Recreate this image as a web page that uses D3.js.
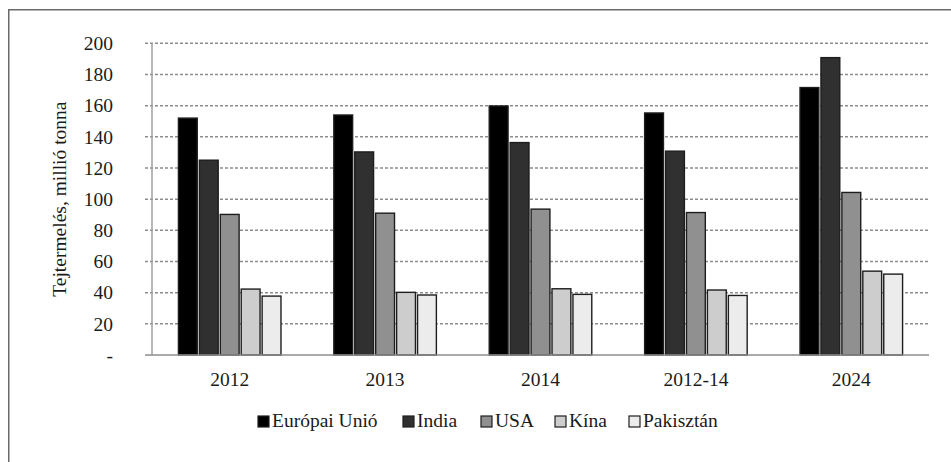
<!DOCTYPE html>
<html>
<head>
<meta charset="utf-8">
<script src="https://cdn.jsdelivr.net/npm/d3@7"></script>
<style>
  html, body { margin: 0; padding: 0; background: #fff; }
  svg { display: block; }
  text { font-family: "Liberation Serif", "Times New Roman", serif; fill: #1a1a1a; }
</style>
</head>
<body>
<svg id="chart" width="951" height="462"></svg>
<script>
// Milk production by country, million tonnes
const categories = ["2012", "2013", "2014", "2012-14", "2024"];
const seriesNames = ["Európai Unió", "India", "USA", "Kína", "Pakisztán"];
const euValues   = [152, 154, 159.8, 155.3, 171.6];
const indiaValues = [125, 130.3, 136.3, 130.8, 190.8];
const usaValues  = [90.2, 91, 93.6, 91.4, 104.3];
const chinaValues = [42.3, 40.2, 42.5, 41.7, 53.8];
const pakValues  = [37.8, 38.5, 38.9, 38.2, 51.9];
const yTicks = [0, 20, 40, 60, 80, 100, 120, 140, 160, 180, 200];
const yTitle = "Tejtermelés, millió tonna";

const seriesValues = [euValues, indiaValues, usaValues, chinaValues, pakValues];
const fills = ["#000000", "#303030", "#909090", "#cdcdcd", "#ececec"];

const svg = d3.select("#chart");

// Frame (left and top edges)
svg.append("path")
  .attr("d", "M8.75,462 V9.75 H951")
  .attr("fill", "none")
  .attr("stroke", "#6a6a6a")
  .attr("stroke-width", 1.5);

const plot = { left: 152, right: 929, top: 43.3, bottom: 355 };

const y = d3.scaleLinear().domain([0, 200]).range([plot.bottom, plot.top]);
const x0 = d3.scaleBand().domain(categories)
  .range([plot.left, plot.right]).paddingInner(0.34).paddingOuter(0.17);
const x1 = d3.scaleBand().domain(seriesNames)
  .range([0, x0.bandwidth()]).paddingInner(0.1).paddingOuter(0);

// Dashed gridlines
svg.append("g").selectAll("line")
  .data(yTicks.filter(d => d > 0))
  .join("line")
  .attr("x1", plot.left - 7).attr("x2", plot.right)
  .attr("y1", d => y(d)).attr("y2", d => y(d))
  .attr("stroke", "#8c8c8c")
  .attr("stroke-width", 1.5)
  .attr("stroke-dasharray", "3,2");

// Y axis
const yAxis = d3.axisLeft(y).tickValues(yTicks)
  .tickFormat(d => d === 0 ? "-" : d)
  .tickSize(0).tickPadding(39);
const gy = svg.append("g").attr("transform", `translate(${plot.left},0)`).call(yAxis);
gy.select(".domain").remove();
gy.selectAll("text")
  .style("font-family", '"Liberation Serif", "Times New Roman", serif')
  .style("font-size", "19.5px")
  .attr("fill", "#1a1a1a");

svg.append("line")
  .attr("x1", plot.left).attr("x2", plot.left)
  .attr("y1", plot.top).attr("y2", plot.bottom)
  .attr("stroke", "#a0a0a0").attr("stroke-width", 1.5);

// Bars
const groups = svg.append("g").selectAll("g")
  .data(categories)
  .join("g")
  .attr("transform", d => `translate(${x0(d)},0)`);

groups.selectAll("rect")
  .data((c, ci) => seriesNames.map((s, si) => ({ s, si, v: seriesValues[si][ci] })))
  .join("rect")
  .attr("x", d => x1(d.s))
  .attr("width", x1.bandwidth())
  .attr("y", d => y(d.v))
  .attr("height", d => y(0) - y(d.v))
  .attr("fill", (d) => fills[d.si])
  .attr("stroke", "#1e1e1e")
  .attr("stroke-width", 1.4);

// X axis
svg.append("line")
  .attr("x1", plot.left - 7).attr("x2", plot.right)
  .attr("y1", plot.bottom).attr("y2", plot.bottom)
  .attr("stroke", "#8c8c8c").attr("stroke-width", 1.5);

const xAxis = d3.axisBottom(x0).tickSize(0).tickPadding(17);
const gx = svg.append("g").attr("transform", `translate(0,${plot.bottom})`).call(xAxis);
gx.select(".domain").remove();
gx.selectAll("text")
  .style("font-family", '"Liberation Serif", "Times New Roman", serif')
  .style("font-size", "19.5px")
  .attr("fill", "#1a1a1a");

// Y axis title
svg.append("text")
  .attr("transform", `translate(66,${(plot.top + plot.bottom) / 2 + 0}) rotate(-90)`)
  .attr("text-anchor", "middle")
  .style("font-size", "19.5px")
  .text(yTitle);

// Legend
const legendX = [258, 403, 481, 555, 629];
const legend = svg.append("g").selectAll("g")
  .data(seriesNames)
  .join("g")
  .attr("transform", (d, i) => `translate(${legendX[i]},416)`);
legend.append("rect")
  .attr("width", 11).attr("height", 11)
  .attr("fill", (d, i) => fills[i])
  .attr("stroke", "#1e1e1e").attr("stroke-width", 1.2);
legend.append("text")
  .attr("x", 14).attr("y", 11)
  .style("font-size", "19.5px")
  .text(d => d);
</script>
</body>
</html>
